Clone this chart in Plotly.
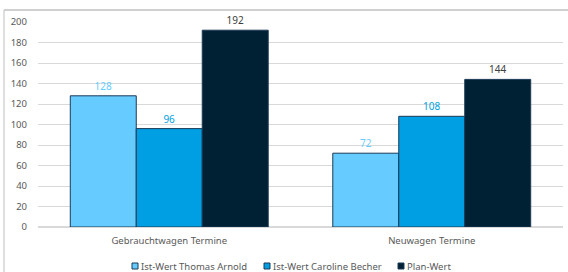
import plotly.graph_objects as go

categories = ["Gebrauchtwagen Termine", "Neuwagen Termine"]
series_names = ["Ist-Wert Thomas Arnold", "Ist-Wert Caroline Becher", "Plan-Wert"]
thomas = [128, 72]
caroline = [96, 108]
plan = [192, 144]
y_ticks = [0, 20, 40, 60, 80, 100, 120, 140, 160, 180, 200]

colors = ["#66CCFF", "#009FE3", "#002033"]
label_colors = ["#66CCFF", "#009FE3", "#404040"]
values = [thomas, caroline, plan]

FONT = "Noto Sans"
W, H = 568, 272
L, R, T, B = 38, 5, 22, 45
pw, ph = W - L - R, H - T - B


def px(x):
    return (x - L) / pw


def py(y):
    return 1 - (y - T) / ph


fig = go.Figure()
for name, vals, c, lc in zip(series_names, values, colors, label_colors):
    fig.add_trace(go.Bar(
        x=categories, y=vals, name=name, showlegend=False,
        marker=dict(color=c, line=dict(color="#1B3A57", width=1)),
        text=[str(v) for v in vals], textposition="outside",
        textfont=dict(color=lc, size=10, family=FONT), cliponaxis=False,
    ))

shapes = [
    dict(type="line", xref="paper", yref="paper",
         x0=px(4), x1=px(W + 10), y0=py(10), y1=py(10),
         line=dict(color="#D0D0D0", width=2)),
    dict(type="line", xref="paper", yref="paper",
         x0=px(4), x1=px(4), y0=py(10), y1=py(H + 10),
         line=dict(color="#BFBFBF", width=1)),
]
annotations = []
legend_x = [132, 264, 398]
for name, c, lx in zip(series_names, colors, legend_x):
    shapes.append(dict(type="rect", xref="paper", yref="paper",
                       x0=px(lx), x1=px(lx + 6), y0=py(263), y1=py(269),
                       fillcolor=c, line=dict(color="#1B3A57", width=1)))
    annotations.append(dict(xref="paper", yref="paper", x=px(lx + 7), y=py(266),
                            xanchor="left", yanchor="middle", text=name, showarrow=False,
                            font=dict(size=9.5, color="#595959", family=FONT)))

fig.update_layout(
    width=W, height=H,
    margin=dict(l=L, r=R, t=T, b=B),
    paper_bgcolor="white", plot_bgcolor="white",
    barmode="group", bargap=0.246, bargroupgap=0,
    font=dict(family=FONT, size=10, color="#595959"),
    showlegend=False,
    xaxis=dict(showgrid=False, showline=False, ticks="", tickfont=dict(size=9.5),
               automargin=False, ticklabelstandoff=6),
    yaxis=dict(range=[0, 200], tickvals=y_ticks, showgrid=True, gridcolor="#D9D9D9",
               gridwidth=1, zeroline=True, zerolinecolor="#D9D9D9", showline=False,
               ticks="", tickfont=dict(size=9.5), ticklabelstandoff=10, automargin=False),
    shapes=shapes,
    annotations=annotations,
)
fig.write_html("out.html", config={"displayModeBar": False},
               post_script="document.body.style.margin='0';document.body.style.overflow='hidden';")
